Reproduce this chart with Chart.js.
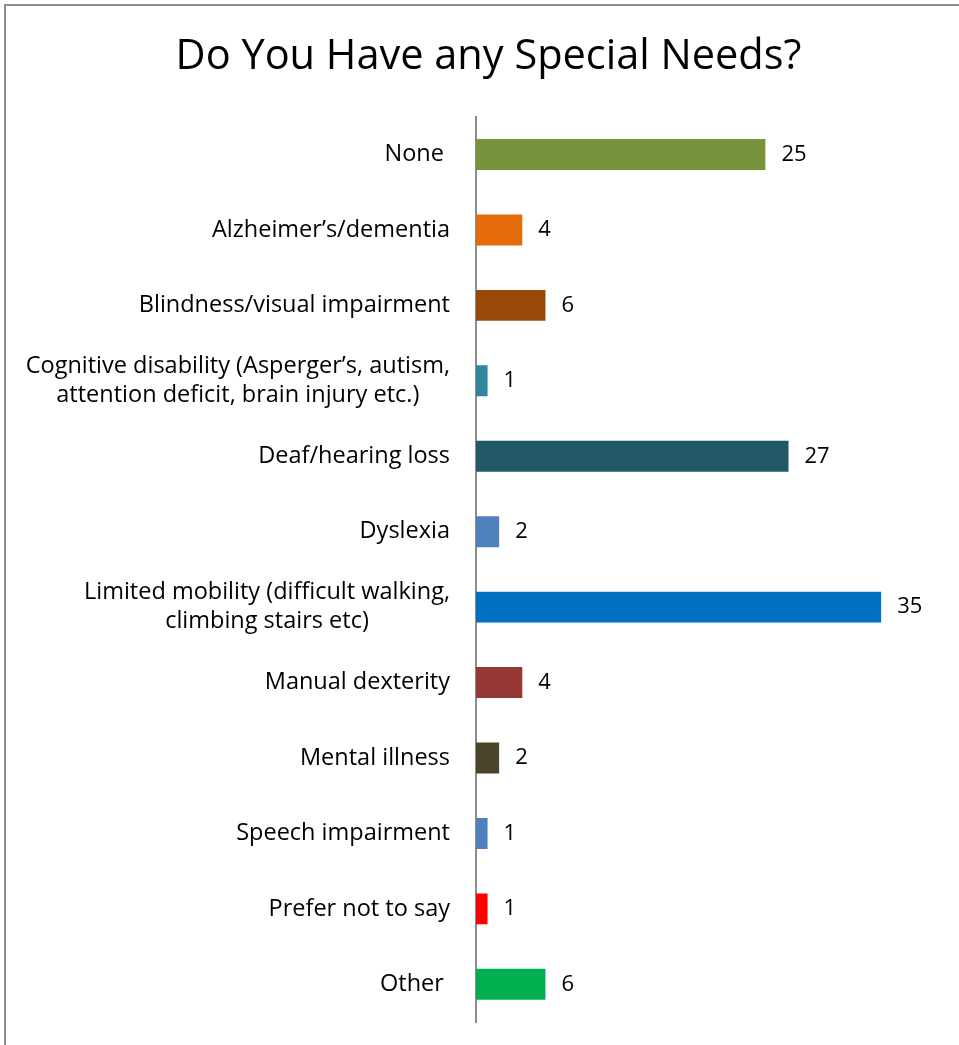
<!DOCTYPE html>
<html>
<head>
<meta charset="utf-8">
<script src="https://cdn.jsdelivr.net/npm/chart.js@4/dist/chart.umd.min.js"></script>
<style>
  html, body { margin: 0; padding: 0; background: #fff; }
  #wrap { position: relative; width: 959px; height: 1045px; }
  #frame { position: absolute; left: 4px; top: 4px; right: -10px; bottom: -10px;
           border-left: 2px solid #8c8c8c; border-top: 2px solid #8c8c8c; pointer-events: none; }
  canvas { position: absolute; left: 0; top: 0; }
</style>
</head>
<body>
<div id="wrap">
  <canvas id="myChart" width="959" height="1045"></canvas>
  <div id="frame"></div>
</div>
<script>
const categories = [
  'None ',
  'Alzheimer\u2019s/dementia',
  'Blindness/visual impairment',
  ['Cognitive disability (Asperger\u2019s, autism,', 'attention deficit, brain injury etc.)'],
  'Deaf/hearing loss',
  'Dyslexia',
  ['Limited mobility (difficult walking,', 'climbing stairs etc)'],
  'Manual dexterity',
  'Mental illness',
  'Speech impairment',
  'Prefer not to say',
  'Other '
];
const counts = [25, 4, 6, 1, 27, 2, 35, 4, 2, 1, 1, 6];
const barColors = [
  '#77933C', '#E46C0A', '#984807', '#31859C', '#215968', '#4F81BD',
  '#0070C0', '#953735', '#4A452A', '#4F81BD', '#FF0000', '#00B050'
];

const FONT = '"Open Sans", "Noto Sans", sans-serif';

// draws category labels (multi-line ones centred on each other) and value labels
const labelPlugin = {
  id: 'labelPlugin',
  afterDraw(chart) {
    const ctx = chart.ctx;
    const y = chart.scales.y;
    ctx.save();
    ctx.fillStyle = '#000';
    ctx.font = '23.5px ' + FONT;
    ctx.textBaseline = 'middle';
    const rightEdge = chart.chartArea.left - 26;
    categories.forEach((lab, i) => {
      const lines = Array.isArray(lab) ? lab : [lab];
      const cy = y.getPixelForValue(i);
      const lh = 29;
      const maxW = Math.max(...lines.map(l => ctx.measureText(l).width));
      const cx = rightEdge - maxW / 2;
      ctx.textAlign = 'center';
      lines.forEach((l, k) => {
        ctx.fillText(l, cx, cy + (k - (lines.length - 1) / 2) * lh);
      });
    });
    ctx.font = '22px ' + FONT;
    ctx.textAlign = 'left';
    chart.getDatasetMeta(0).data.forEach((bar, i) => {
      ctx.fillText(String(counts[i]), bar.x + 16, bar.y);
    });
    ctx.restore();
  }
};

const ctx = document.getElementById('myChart').getContext('2d');

new Chart(ctx, {
  type: 'bar',
  data: {
    labels: categories,
    datasets: [{
      label: 'Responses',
      data: counts,
      backgroundColor: barColors,
      categoryPercentage: 1,
      barPercentage: 0.41
    }]
  },
  options: {
    indexAxis: 'y',
    responsive: false,
    animation: false,
    layout: { padding: { left: 38, right: 20, top: 0, bottom: 23 } },
    plugins: {
      legend: { display: false },
      tooltip: { enabled: false },
      title: {
        display: true,
        text: 'Do You Have any Special Needs?',
        color: '#000',
        font: { family: FONT, size: 41.5, weight: 'normal' },
        padding: { top: 32, bottom: 35 }
      }
    },
    scales: {
      x: {
        display: false,
        min: 0,
        max: 40
      },
      y: {
        grid: { display: false },
        border: { display: true, color: '#8c8c8c', width: 2 },
        ticks: { display: false },
        afterFit(scale) { scale.width = 438; }
      }
    }
  },
  plugins: [labelPlugin]
});
</script>
</body>
</html>
